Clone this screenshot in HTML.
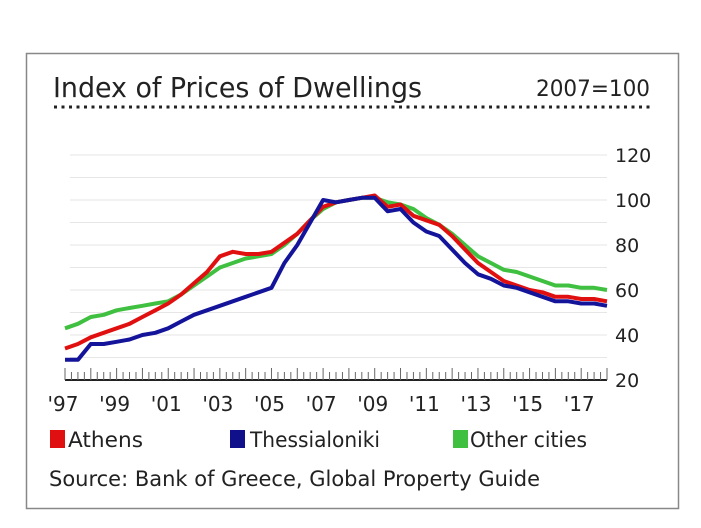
<!DOCTYPE html>
<html><head><meta charset="utf-8"><style>
html,body{margin:0;padding:0;background:#fff;}
body{width:701px;height:524px;overflow:hidden;font-family:"DejaVu Sans","Liberation Sans",sans-serif;}
</style></head><body>
<svg id="chart" width="701" height="524" xmlns="http://www.w3.org/2000/svg">
<rect x="26.5" y="53.5" width="652" height="455" fill="#fff" stroke="#888" stroke-width="1.5"/>
<text x="53" y="97" font-size="28" fill="#222" textLength="369" lengthAdjust="spacingAndGlyphs" font-family="DejaVu Sans Condensed, DejaVu Sans, sans-serif">Index of Prices of Dwellings</text>
<text x="536" y="96" font-size="22" fill="#222" textLength="114" lengthAdjust="spacingAndGlyphs" font-family="DejaVu Sans Condensed, DejaVu Sans, sans-serif">2007=100</text>
<line x1="54" y1="107" x2="650" y2="107" stroke="#222" stroke-width="3" stroke-dasharray="3 4.5"/>
<g id="grid"></g><g id="ticks"></g><g id="series"></g><g id="labels"></g>
<g>
<rect x="50" y="430" width="15" height="18" fill="#e01010"/>
<text x="68" y="447" font-size="21" fill="#222" textLength="75" lengthAdjust="spacingAndGlyphs">Athens</text>
<rect x="230" y="430" width="15" height="18" fill="#10108a"/>
<text x="250" y="447" font-size="21" fill="#222" textLength="130" lengthAdjust="spacingAndGlyphs">Thessialoniki</text>
<rect x="453" y="430" width="15" height="18" fill="#40c040"/>
<text x="470" y="447" font-size="21" fill="#222" textLength="117" lengthAdjust="spacingAndGlyphs">Other cities</text>
</g>
<text x="49" y="486" font-size="21" fill="#222" textLength="491" lengthAdjust="spacingAndGlyphs">Source: Bank of Greece, Global Property Guide</text>
</svg>
<script>
const years = [1997,1997.5,1998,1998.5,1999,1999.5,2000,2000.5,2001,2001.5,2002,2002.5,2003,2003.5,2004,2004.5,2005,2005.5,2006,2006.5,2007,2007.5,2008,2008.5,2009,2009.5,2010,2010.5,2011,2011.5,2012,2012.5,2013,2013.5,2014,2014.5,2015,2015.5,2016,2016.5,2017,2017.5,2018];
const athens = [34,36,39,41,43,45,48,51,54,58,63,68,75,77,76,76,77,81,85,91,97,99,100,101,102,97,98,93,91,89,84,78,72,68,64,62,60,59,57,57,56,56,55];
const thessaloniki = [29,29,36,36,37,38,40,41,43,46,49,51,53,55,57,59,61,72,80,90,100,99,100,101,101,95,96,90,86,84,78,72,67,65,62,61,59,57,55,55,54,54,53];
const other = [43,45,48,49,51,52,53,54,55,58,62,66,70,72,74,75,76,80,85,91,96,99,100,101,101,99,98,96,92,89,85,80,75,72,69,68,66,64,62,62,61,61,60];
const yTicks = [20,40,60,80,100,120];
const xLabels = ["'97","'99","'01","'03","'05","'07","'09","'11","'13","'15","'17"];
const xLabelYears = [1997,1999,2001,2003,2005,2007,2009,2011,2013,2015,2017];
const NS='http://www.w3.org/2000/svg';
const X0=65,X1=607,Y0=380,Y1=155;
function xs(t){return X0+(t-1997)/(2018-1997)*(X1-X0);}
function ys(v){return Y0-(v-20)/(120-20)*(Y0-Y1);}
function mk(tag,attrs,parent){const e=document.createElementNS(NS,tag);for(const k in attrs)e.setAttribute(k,attrs[k]);document.getElementById(parent).appendChild(e);return e;}
for(let v=30;v<=120;v+=10){
  const g=mk('line',{x1:X0+5,x2:X1,y1:ys(v),y2:ys(v),stroke:'#e6e6e6','stroke-width':1},'grid');
  
  
}
const ax=mk('line',{x1:X0,x2:X1,y1:Y0,y2:Y0,stroke:'#222','stroke-width':2},'ticks');


for(let q=0;q<=84;q++){
  const t=1997+q/4;const big=q%4===0;
  const tk=mk('line',{x1:xs(t),x2:xs(t),y1:Y0,y2:Y0-(big?12:8),stroke:'#666','stroke-width':1},'ticks');
  
  
}
yTicks.forEach(v=>{
  const t=mk('text',{x:615,y:ys(v)+7,'font-size':19,fill:'#222'},'labels');
  t.textContent=v;
  
  
});
xLabels.forEach((s,i)=>{
  const t=mk('text',{x:xs(xLabelYears[i])-2,y:411,'font-size':20,fill:'#222','text-anchor':'middle'},'labels');
  t.textContent=s;
  
  
});
function line(vals,color,name){
  const d=vals.map((v,i)=>(i?'L':'M')+xs(years[i]).toFixed(1)+' '+ys(v).toFixed(1)).join(' ');
  const p=mk('path',{d:d,fill:'none',stroke:color,'stroke-width':4,'stroke-linejoin':'round'},'series');
  
  
}
line(other,'#40c040','line-other-cities');
line(athens,'#e01010','line-athens');
line(thessaloniki,'#14149a','line-thessaloniki');
</script>
</body></html>
